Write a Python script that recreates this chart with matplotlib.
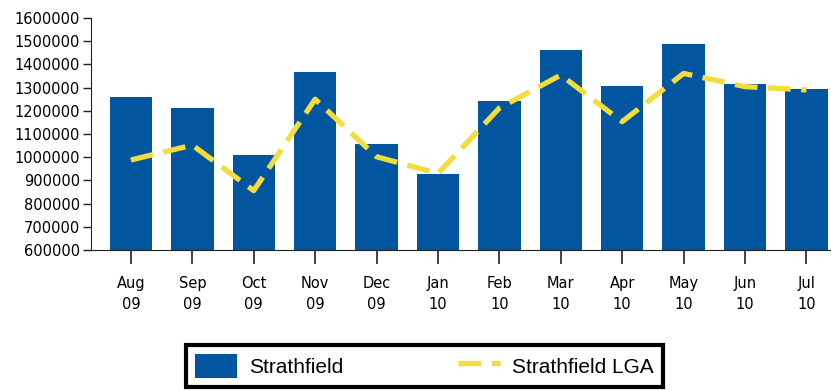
import matplotlib
matplotlib.use("Agg")
import matplotlib.pyplot as plt
import numpy as np

months = ["Aug\n09", "Sep\n09", "Oct\n09", "Nov\n09", "Dec\n09", "Jan\n10",
          "Feb\n10", "Mar\n10", "Apr\n10", "May\n10", "Jun\n10", "Jul\n10"]
strathfield = [1260000, 1210000, 1008000, 1366000, 1057000, 926000,
               1243000, 1462000, 1307000, 1488000, 1317000, 1292000]
strathfield_lga = [988000, 1052000, 856000, 1250000, 1002000, 930000,
                   1212000, 1354000, 1153000, 1361000, 1304000, 1290000]
yticks = list(range(600000, 1600001, 100000))

W, H = 831, 391
fig = plt.figure(figsize=(W / 100, H / 100), dpi=100)
ax = fig.add_axes([0.1095, 0.3606, 0.8905, 0.5934])

x = np.arange(len(months))
bars = ax.bar(x, strathfield, width=0.69, color="#02559F", label="Strathfield", zorder=2)
line, = ax.plot(x, strathfield_lga, color="#F4DC3C", lw=3.8, dashes=(4.3, 2.0),
                label="Strathfield LGA", zorder=3, dash_capstyle="butt")

ax.set_xlim(-0.65, 11.4)
ax.set_ylim(600000, 1600000)
ax.set_yticks(yticks)
ax.set_yticklabels([str(v) for v in yticks], fontsize=10.5, family="DejaVu Sans")
ax.set_xticks(x)
ax.set_xticklabels(months, fontsize=10.5, family="DejaVu Sans", linespacing=1.5)
ax.spines["top"].set_visible(False)
ax.spines["right"].set_visible(False)
ax.spines["left"].set_color("#222222")
ax.spines["bottom"].set_color("#222222")
ax.tick_params(axis="x", length=10, width=1.2, pad=9, color="#222222")
ax.tick_params(axis="y", length=6, width=1.0, pad=2, color="#222222")

x0, x1, y0, y1 = 186, 663, 343, 389
leg = fig.legend([bars, line], ["Strathfield", "Strathfield LGA"],
                 loc="center", mode="expand",
                 bbox_to_anchor=(x0 / W, 1 - y1 / H, (x1 - x0) / W, (y1 - y0) / H),
                 ncol=2, frameon=True, fancybox=False, framealpha=1,
                 prop={"family": "Liberation Sans", "size": 15},
                 handlelength=2.0, handleheight=1.4,
                 borderpad=0.45, handletextpad=0.6, borderaxespad=0)
leg.get_frame().set_edgecolor("black")
leg.get_frame().set_linewidth(3)

fig.savefig("out.png", dpi=100)
